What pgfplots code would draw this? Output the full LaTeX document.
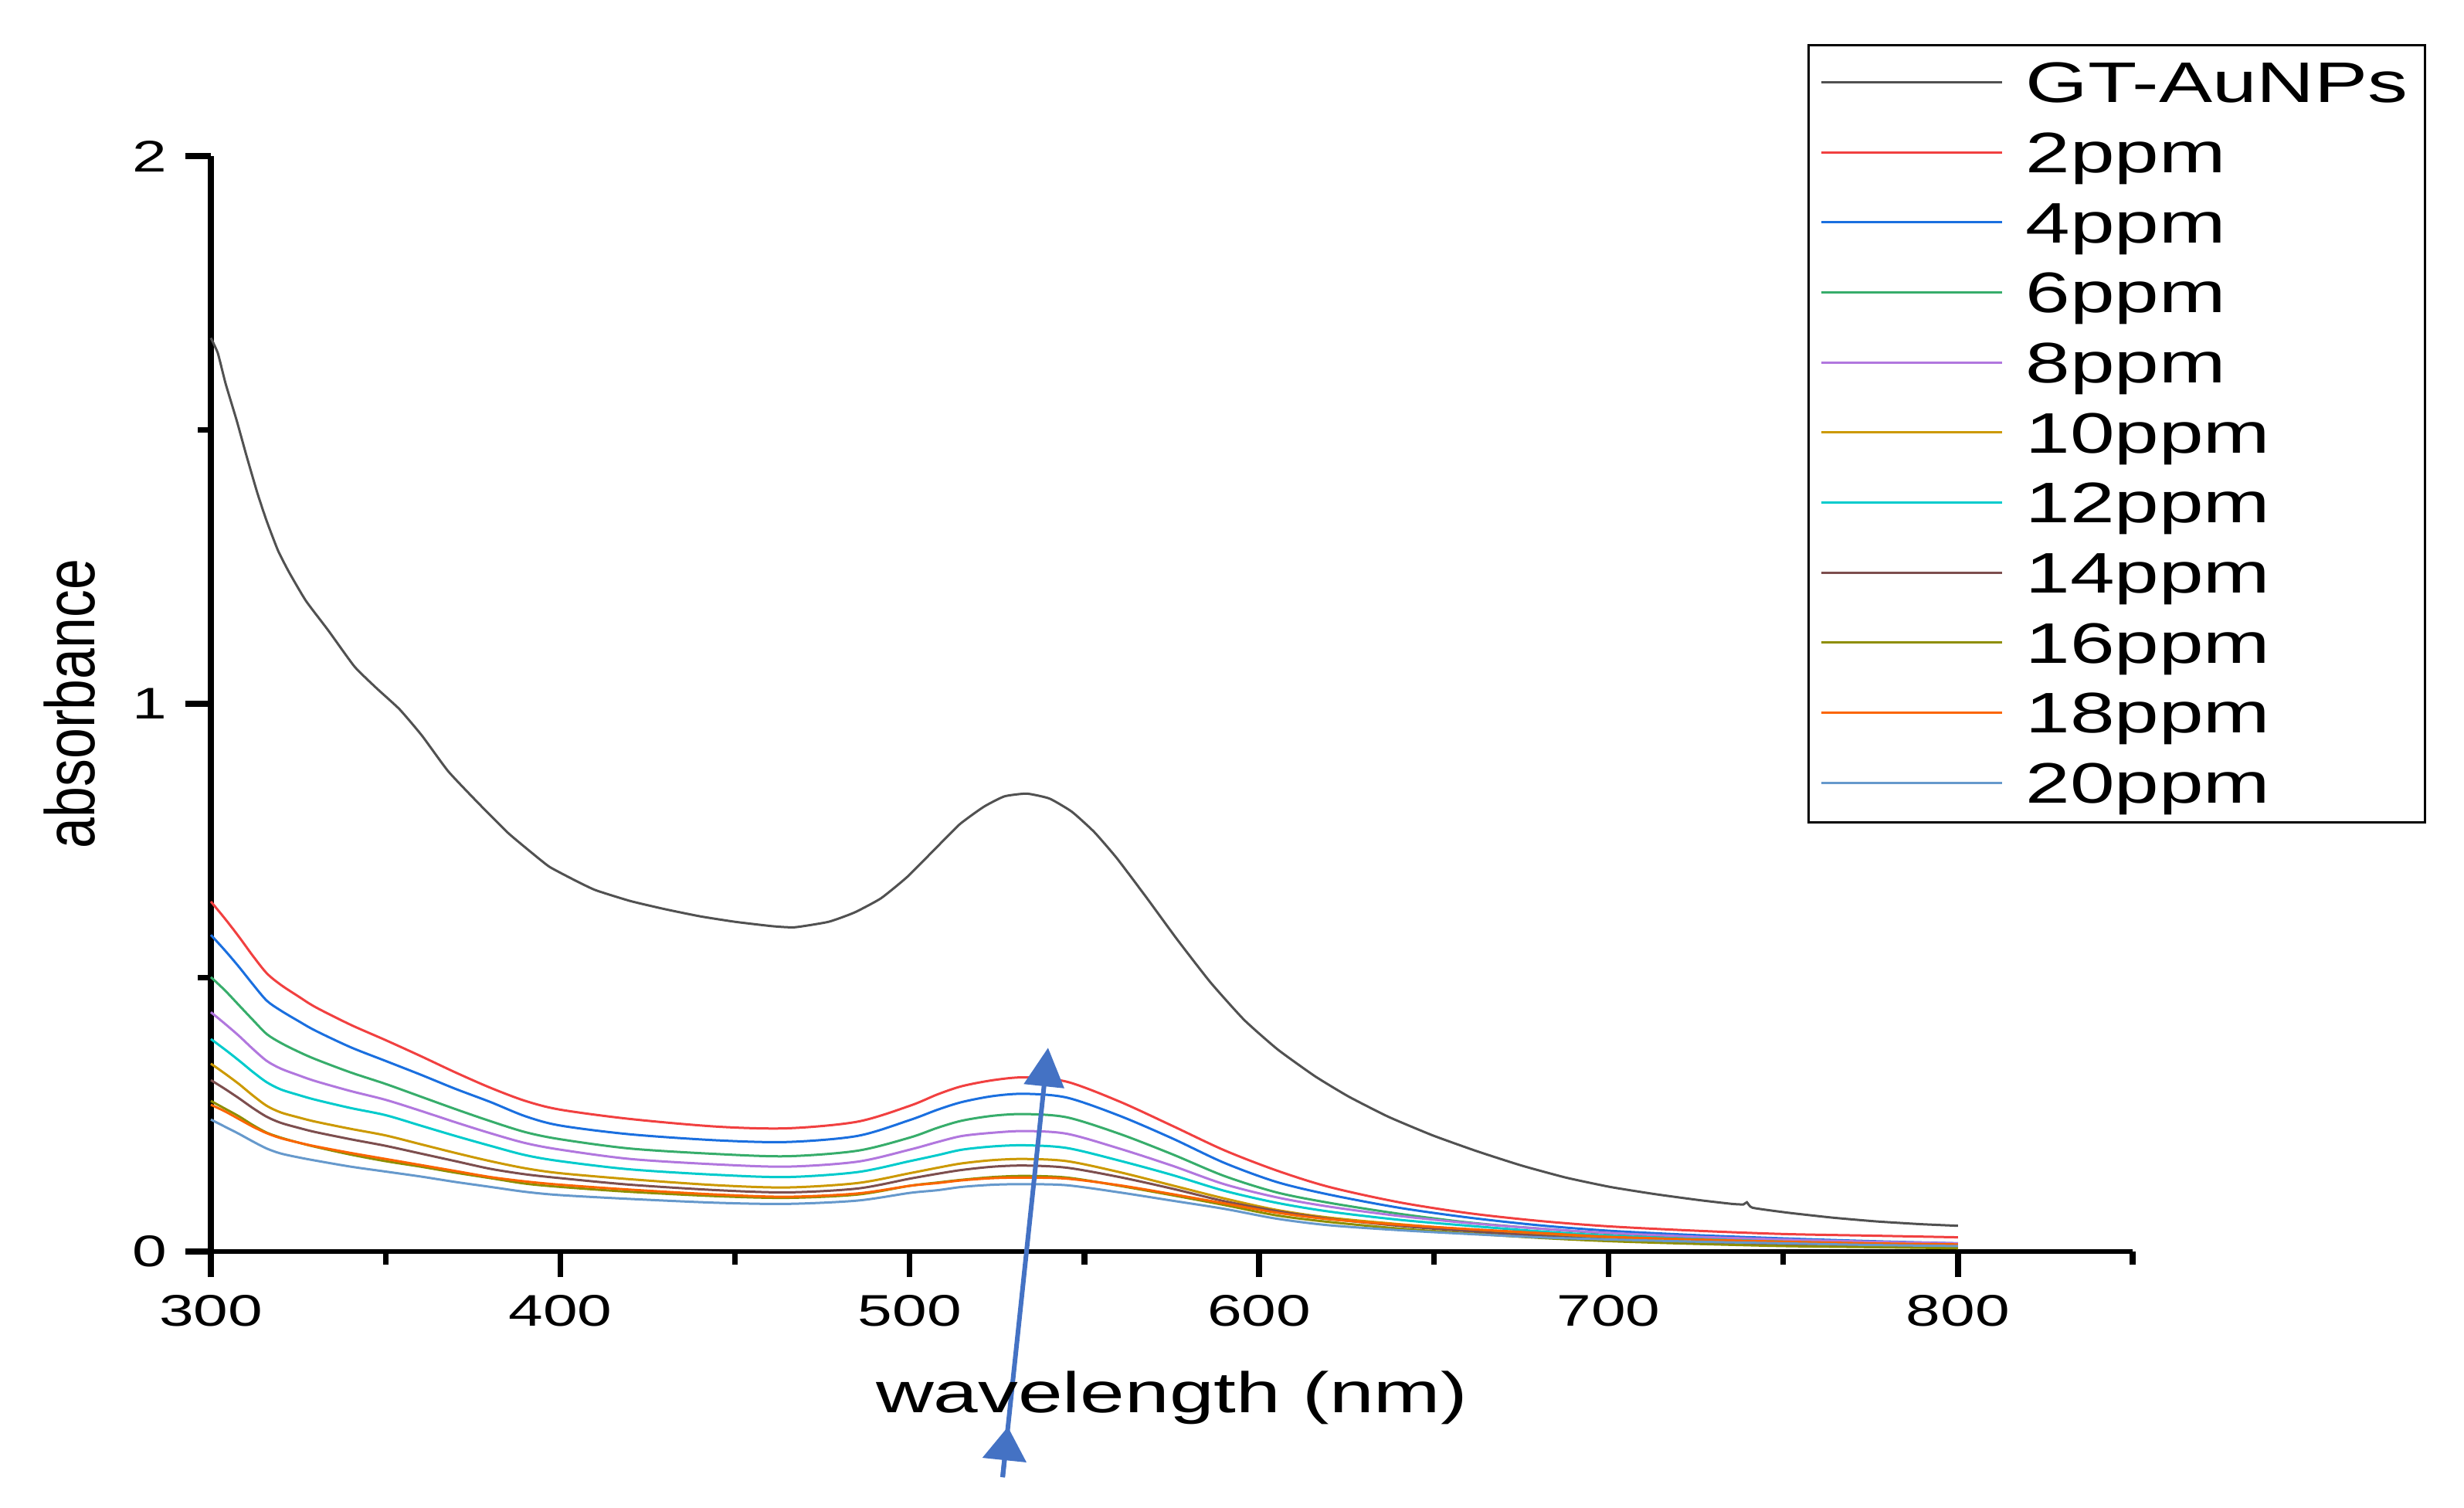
\documentclass[border=0pt]{standalone}
\usepackage{fontspec}
\setmainfont{Liberation Sans}[FakeStretch=1.4]
\newfontfamily\ylabelfont{Liberation Sans}[FakeStretch=0.79]
\usepackage{pgfplots}
\usepackage{pgfplotstable}
\pgfplotsset{compat=1.18}
\usetikzlibrary{arrows.meta}

\definecolor{cAu}{HTML}{515151}
\definecolor{c2}{HTML}{F14040}
\definecolor{c4}{HTML}{1A6FDF}
\definecolor{c6}{HTML}{37AD6B}
\definecolor{c8}{HTML}{B177DE}
\definecolor{c10}{HTML}{CC9900}
\definecolor{c12}{HTML}{00CBCC}
\definecolor{c14}{HTML}{7D4E4E}
\definecolor{c16}{HTML}{8E8E00}
\definecolor{c18}{HTML}{FB6501}
\definecolor{c20}{HTML}{6699CC}
\definecolor{arrowblue}{HTML}{4472C4}

% UV-vis spectrum of the gold nanoparticles
\pgfplotstableread{
wl A
300 1.668
302 1.640
304.2 1.585
307.4 1.517
310.1 1.455
313.3 1.385
315.9 1.335
319.2 1.280
322.4 1.240
327.2 1.188
333.6 1.134
341.1 1.068
347.5 1.028
354.0 0.990
360.4 0.942
367.9 0.877
376.5 0.819
385.1 0.764
392.6 0.724
397.0 0.702
403.8 0.679
410 0.660
420 0.640
430 0.625
440 0.612
450 0.602
460.7 0.594
467.1 0.592
476.8 0.602
484.2 0.619
491.8 0.645
499.3 0.684
506.8 0.732
514.3 0.780
521.2 0.812
527.1 0.831
533.5 0.836
540.0 0.827
546.4 0.803
552.8 0.766
559.3 0.718
567.8 0.646
576.4 0.571
586.0 0.492
595.7 0.423
605.3 0.369
616.0 0.320
625.6 0.283
637.0 0.246
649.7 0.212
662.4 0.183
675.1 0.157
687.8 0.135
700.4 0.118
713.1 0.105
725.8 0.094
735.3 0.087
738.6 0.086
739.6 0.090
741.2 0.080
751.2 0.071
763.9 0.062
776.6 0.055
789.3 0.050
800.0 0.047
}\gtau

% spectra after adding the analyte (ppm)
\pgfplotstableread{
wl  c2   c4   c6   c8   c10  c12  c14  c16  c18  c20
300 .639 .578 .501 .437 .343 .388 .313 .275 .268 .241
304 .608 .550 .477 .416 .325 .369 .297 .261 .256 .228
308 .575 .520 .450 .394 .306 .349 .280 .247 .242 .215
312 .540 .488 .423 .370 .285 .328 .262 .231 .228 .201
316 .508 .458 .397 .348 .266 .309 .246 .217 .216 .188
320 .487 .440 .381 .334 .254 .296 .235 .208 .207 .179
325 .466 .421 .365 .322 .245 .286 .226 .199 .199 .172
330 .446 .403 .351 .311 .237 .277 .218 .191 .192 .166
340 .414 .373 .327 .293 .224 .262 .205 .177 .180 .155
350 .386 .348 .306 .277 .212 .249 .193 .165 .169 .146
360 .357 .323 .283 .257 .196 .230 .179 .155 .158 .137
370 .327 .297 .260 .236 .180 .211 .165 .144 .147 .127
380 .299 .273 .238 .216 .165 .193 .151 .134 .136 .118
390 .275 .247 .218 .198 .152 .176 .141 .124 .128 .109
400 .259 .230 .205 .186 .143 .165 .134 .118 .122 .103
420 .242 .214 .188 .169 .132 .150 .122 .109 .113 .096
445 .228 .203 .178 .159 .121 .140 .112 .101 .104 .089
465 .225 .200 .174 .155 .117 .136 .108 .098 .100 .087
485 .237 .211 .184 .164 .125 .145 .115 .104 .106 .093
500 .266 .240 .208 .186 .143 .165 .133 .120 .120 .107
508 .287 .259 .226 .200 .153 .176 .142 .126 .125 .112
515 .302 .273 .239 .211 .161 .186 .149 .131 .130 .118
524 .313 .284 .248 .217 .167 .192 .155 .136 .134 .122
533 .318 .288 .251 .220 .169 .194 .157 .138 .135 .123
545 .310 .281 .245 .215 .165 .189 .153 .135 .133 .121
560 .274 .248 .215 .188 .145 .166 .136 .120 .121 .108
575 .230 .207 .178 .157 .121 .140 .115 .103 .105 .093
590 .185 .162 .138 .123 .097 .111 .092 .085 .088 .078
605 .148 .127 .108 .099 .076 .089 .074 .066 .071 .060
620 .118 .104 .089 .082 .062 .073 .060 .054 .059 .048
640 .090 .080 .069 .065 .050 .058 .047 .042 .049 .039
660 .070 .062 .053 .052 .040 .047 .037 .033 .041 .032
680 .056 .048 .042 .042 .031 .037 .029 .025 .034 .026
700 .046 .038 .033 .034 .024 .029 .022 .019 .027 .022
725 .038 .030 .026 .027 .018 .023 .017 .014 .022 .018
750 .032 .024 .020 .022 .014 .018 .013 .010 .018 .015
775 .029 .019 .016 .018 .010 .014 .010 .008 .015 .012
800 .026 .015 .012 .015 .007 .011 .007 .006 .013 .010
}\conc

\begin{document}
\begin{tikzpicture}
\useasboundingbox (0,0) rectangle (478.5pt,292.65pt);
\begin{axis}[
  at={(40.95pt,49.65pt)}, anchor=south west,
  scale only axis, width=373.2pt, height=212.7pt,
  xmin=300, xmax=850, ymin=0, ymax=2,
  axis x line*=bottom, axis y line*=left,
  x axis line style={line width=0.9pt},
  y axis line style={line width=1.2pt},
  clip=false,
  xtick={300,400,...,800}, minor xtick={350,450,...,850},
  ytick={0,1,2}, minor ytick={0.5,1.5},
  tick align=outside,
  major tick length=5pt, minor tick length=2.5pt,
  every tick/.style={black, line width=1.1pt},
  /pgf/number format/assume math mode=true,
  ticklabel style={font=\fontsize{8.6}{10}\selectfont},
  xlabel={wavelength (nm)}, ylabel={absorbance},
  xlabel style={font=\fontsize{11.1}{13}\selectfont,
    at={(axis description cs:0.5,-0.1467)}, anchor=base},
  ylabel style={font=\ylabelfont\fontsize{13.6}{15}\selectfont,
    at={(axis description cs:-0.0735,0.5)}, anchor=center},
  every axis plot/.append style={line width=0.45pt, mark=none},
  legend style={at={(0.8308,1.1023)}, anchor=north west,
    draw=black, line width=0.45pt,
    inner xsep=2.25pt, inner ysep=0.65pt,
    row sep=0pt, column sep=4.35pt,
    font=\fontsize{11.1}{13}\selectfont,
    nodes={inner sep=0pt, text height=10.52pt, text depth=3.08pt,
      text width=75.3pt, anchor=base west}},
  legend image code/.code={\draw[#1] (0pt,3.97pt) -- (35.1pt,3.97pt);},
]
\addplot[cAu, smooth, tension=0.3] table[x=wl, y=A] {\gtau};
\addlegendentry{GT-AuNPs}
\addplot[c2, smooth] table[x=wl, y=c2] {\conc};
\addlegendentry{2ppm}
\addplot[c4, smooth] table[x=wl, y=c4] {\conc};
\addlegendentry{4ppm}
\addplot[c6, smooth] table[x=wl, y=c6] {\conc};
\addlegendentry{6ppm}
\addplot[c8, smooth] table[x=wl, y=c8] {\conc};
\addlegendentry{8ppm}
\addplot[c10, smooth] table[x=wl, y=c10] {\conc};
\addlegendentry{10ppm}
\addplot[c12, smooth] table[x=wl, y=c12] {\conc};
\addlegendentry{12ppm}
\addplot[c14, smooth] table[x=wl, y=c14] {\conc};
\addlegendentry{14ppm}
\addplot[c16, smooth] table[x=wl, y=c16] {\conc};
\addlegendentry{16ppm}
\addplot[c18, smooth] table[x=wl, y=c18] {\conc};
\addlegendentry{18ppm}
\addplot[c20, smooth] table[x=wl, y=c20] {\conc};
\addlegendentry{20ppm}
% arrow marking the rise of the plasmon band
\draw[arrowblue, line width=0.9pt, -{Triangle[length=7.5pt,width=7.7pt]}]
  (axis cs:526.6,-0.412) -- (axis cs:539.6,0.372);
\draw[arrowblue, line width=0.9pt, -{Triangle[length=6.5pt,width=8.4pt]}]
  (axis cs:526.6,-0.412) -- (axis cs:528.1,-0.320);
\end{axis}
\end{tikzpicture}
\end{document}
